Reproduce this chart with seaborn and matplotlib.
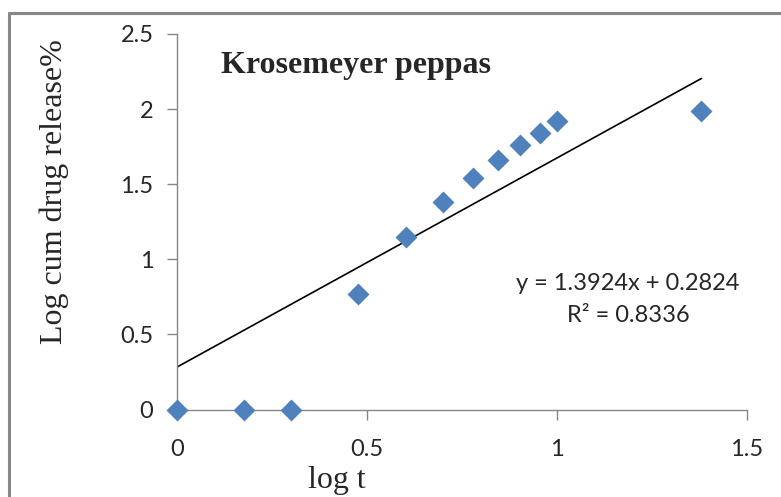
import numpy as np
import pandas as pd
import matplotlib
matplotlib.use("Agg")
import matplotlib.pyplot as plt
from matplotlib.lines import Line2D
import seaborn as sns

# ---- data ----
log_t = [0.0, 0.176, 0.301, 0.477, 0.602, 0.699, 0.778, 0.845, 0.903, 0.954, 1.0, 1.380]
log_release = [0.0, 0.0, 0.0, 0.77, 1.15, 1.38, 1.54, 1.66, 1.76, 1.84, 1.92, 1.99]
slope = 1.3924
intercept = 0.2824
r2 = 0.8336
x_ticks = [0, 0.5, 1, 1.5]
y_ticks = [0, 0.5, 1, 1.5, 2, 2.5]
title = "Krosemeyer peppas"
x_label = "log t"
y_label = "Log cum drug release%"

df = pd.DataFrame({"log t": log_t, "release": log_release})
trend_x = np.array([min(log_t), max(log_t)])
trend = pd.DataFrame({"x": trend_x, "y": slope * trend_x + intercept})

sns.set_style("white")
W, H = 781, 497
fig = plt.figure(figsize=(W / 100, H / 100), dpi=100)
ax = fig.add_axes([177 / W, (H - 409.5) / H, (747 - 177) / W, (409.5 - 34) / H])

sns.lineplot(data=trend, x="x", y="y", ax=ax, color="black", linewidth=1.2, zorder=2)
sns.scatterplot(data=df, x="log t", y="release", ax=ax, marker="D", s=125,
                color="#4F81BD", linewidth=0, zorder=3, clip_on=False)

ax.set_xlim(0, 1.5)
ax.set_ylim(0, 2.5)
ax.set_xticks(x_ticks)
ax.set_yticks(y_ticks)
ax.set_xticklabels([f"{v:g}" for v in x_ticks])
ax.set_yticklabels([f"{v:g}" for v in y_ticks])
ax.set_xlabel("")
ax.set_ylabel("")

axis_col = "#868686"
for side in ["top", "right"]:
    ax.spines[side].set_visible(False)
for side in ["left", "bottom"]:
    ax.spines[side].set_color(axis_col)
    ax.spines[side].set_linewidth(1.0)
ax.tick_params(axis="both", which="major", direction="out", length=7, width=1.0,
               color=axis_col, labelsize=17, labelcolor="#262626")
ax.tick_params(axis="y", pad=10, left=True)
ax.tick_params(axis="x", pad=14, bottom=True)
for lbl in ax.get_xticklabels() + ax.get_yticklabels():
    lbl.set_family("Lato")

# texts
fig.text(356 / W, 1 - 73 / H, title, ha="center", va="baseline",
         family="Liberation Serif", weight="bold", size=23)
fig.text(337 / W, 1 - 488 / H, x_label, ha="center", va="baseline",
         family="Liberation Serif", size=23)
fig.text(54 / W, 1 - 192 / H, y_label, ha="center", va="center", rotation=90,
         family="Liberation Serif", size=23)
fig.text(628 / W, 1 - 283 / H, f"y = {slope}x + {intercept}", ha="center", va="center",
         family="Lato", size=17, color="#262626")
fig.text(628 / W, 1 - 316 / H, f"R² = {r2}", ha="center", va="center",
         family="Lato", size=17, color="#262626")

# outer chart border (left and top visible)
border_col = "#878787"
fig.add_artist(Line2D([8.5 / W, 8.5 / W], [0, 1 - 13 / H], transform=fig.transFigure,
                      color=border_col, linewidth=2.2))
fig.add_artist(Line2D([8.5 / W, 1], [1 - 13 / H, 1 - 13 / H], transform=fig.transFigure,
                      color=border_col, linewidth=2.2))

fig.savefig("out.png", dpi=100)
